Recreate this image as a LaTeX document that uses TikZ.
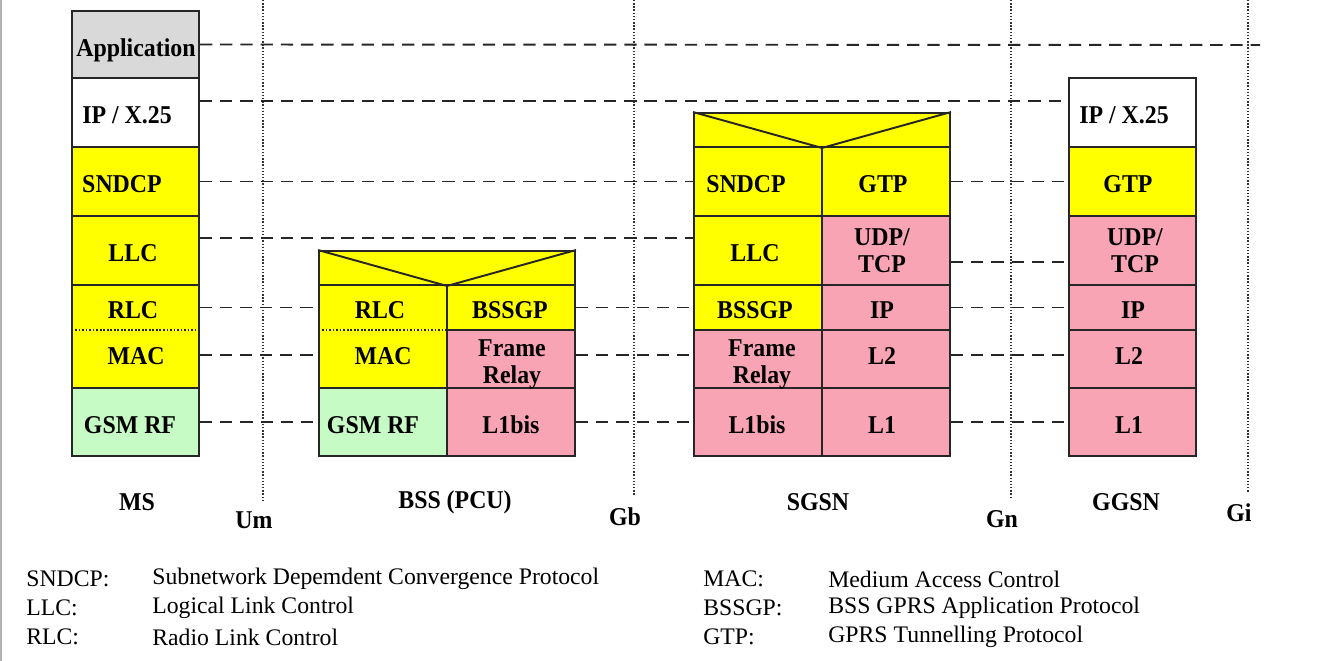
\documentclass[tikz,border=0pt]{standalone}
\usepackage{fontspec}
\setmainfont{Liberation Serif}
\newfontfamily\layerfont[FakeStretch=0.93]{Liberation Serif}
\usetikzlibrary{fit,calc}
\tikzset{
  layer/.style={draw=black!85, line width=1.1pt, inner sep=0pt},
  plane/.style={inner sep=0pt, draw=none},
  lbl/.style={font=\layerfont\fontsize{14.6}{15.5}\selectfont\bfseries, inner sep=0pt, align=center},
  peer/.style={line width=1.1pt, black!85, dash pattern=on 7pt off 4.5pt},
  iface/.style={line width=0.8pt, black!80, densely dotted},
  legend/.style={font=\fontsize{13.5}{15}\selectfont, anchor=west, inner sep=0pt}
}
\definecolor{layeryellow}{HTML}{FFFF00}
\definecolor{layerpink}{HTML}{F9A4B4}
\definecolor{rfgreen}{HTML}{C6FBC6}
\definecolor{appgrey}{HTML}{D9D9D9}

\begin{document}
\begin{tikzpicture}[x=0.02cm, y=-0.02cm]

  \useasboundingbox (0,0) rectangle (1324,661);
  \draw[black!30, line width=1pt] (1,0) -- (1,661);

  % interfaces
  \foreach \n/\x/\yb/\ty/\t in {
    um/263/500/520/Um,
    gb/634/495/517/Gb,
    gn/1011/497/519/Gn,
    gi/1248/492/513/Gi}{
    \draw[iface] (\x,0) -- (\x,\yb);
    \node[lbl] (\n) at (\x-9,\ty) {\t};
  }

  % protocol layers
  \foreach \n/\xa/\ya/\xb/\yb/\c in {
    msapp/72/11/199/78/appgrey,
    msip/72/78/199/147/white,
    mssnd/72/147/199/216/layeryellow,
    msllc/72/216/199/285/layeryellow,
    msrf/72/388/199/456/rfgreen,
    bsstop/319/251/575/285/layeryellow,
    bssgp/447/285/575/330/layeryellow,
    bssfr/447/330/575/388/layerpink,
    bssrf/319/388/447/456/rfgreen,
    bssl1/447/388/575/456/layerpink,
    sgtop/694/113/950/147/layeryellow,
    sgsnd/694/147/822/216/layeryellow,
    sggtp/822/147/950/216/layeryellow,
    sgllc/694/216/822/285/layeryellow,
    sgudp/822/216/950/285/layerpink,
    sgbssgp/694/285/822/330/layeryellow,
    sgip/822/285/950/330/layerpink,
    sgfr/694/330/822/388/layerpink,
    sgl2/822/330/950/388/layerpink,
    sgl1bis/694/388/822/456/layerpink,
    sgl1/822/388/950/456/layerpink,
    ggip/1069/78/1196/147/white,
    gggtp/1069/147/1196/216/layeryellow,
    ggudp/1069/216/1196/285/layerpink,
    ggipl/1069/285/1196/330/layerpink,
    ggl2/1069/330/1196/388/layerpink,
    ggl1/1069/388/1196/456/layerpink}{
    \node[layer, fill=\c, fit={(\xa,\ya) (\xb,\yb)}] (\n) {};
  }

  % RLC/MAC share one frame
  \foreach \n/\xa/\ya/\xb/\yb in {
    msrlc/72/285/199/330,
    msmac/72/330/199/388,
    bssrlc/319/285/447/330,
    bssmac/319/330/447/388}{
    \node[plane, fill=layeryellow, fit={(\xa,\ya) (\xb,\yb)}] (\n) {};
  }
  \draw[layer] (msrlc.north west) rectangle (msmac.south east);
  \draw[layer] (bssrlc.north west) rectangle (bssmac.south east);
  \draw[black!85, line width=1pt, densely dotted] (msrlc.south west) -- (msrlc.south east);
  \draw[black!85, line width=1pt, densely dotted] (bssrlc.south west) -- (bssrlc.south east);

  % relay tops
  \draw[line width=1.1pt, black!85] (bsstop.north west) -- (bsstop.south) -- (bsstop.north east);
  \draw[line width=1.1pt, black!85] (sgtop.north west) -- (sgtop.south) -- (sgtop.north east);

  % peer connections
  \coordinate (append) at (1260,45);
  \draw[peer] (msapp.east) -- (append);
  \draw[peer] ([yshift=0.23cm]msip.east) -- ([yshift=0.23cm]ggip.west);
  \draw[peer] (mssnd.east) -- (sgsnd.west);
  \draw[peer] (sggtp.east) -- (gggtp.west);
  \draw[peer] ([yshift=0.25cm]msllc.east) -- ([yshift=0.25cm]sgllc.west);
  \draw[peer] ([yshift=-0.23cm]sgudp.east) -- ([yshift=-0.23cm]ggudp.west);
  \draw[peer] (msrlc.east) -- (bssrlc.west);
  \draw[peer] (bssgp.east) -- (sgbssgp.west);
  \draw[peer] (sgip.east) -- (ggipl.west);
  \draw[peer] ([yshift=0.08cm]msmac.east) -- ([yshift=0.08cm]bssmac.west);
  \draw[peer] ([yshift=0.08cm]bssfr.east) -- ([yshift=0.08cm]sgfr.west);
  \draw[peer] ([yshift=0.08cm]sgl2.east) -- ([yshift=0.08cm]ggl2.west);
  \draw[peer] (msrf.east) -- (bssrf.west);
  \draw[peer] (bssl1.east) -- (sgl1bis.west);
  \draw[peer] (sgl1.east) -- (ggl1.west);

  % layer names
  \foreach \n/\x/\y/\t in {
    tmsapp/136/50/Application,
    tmsip/127/115/{IP / X.25},
    tmssnd/122/184/SNDCP,
    tmsllc/133/253/LLC,
    tmsrlc/133/310/RLC,
    tmsmac/136/356/MAC,
    tmsrf/130/425/GSM RF,
    tbssrlc/380/310/RLC,
    tbssmac/383/356/MAC,
    tbssrf/373/425/GSM RF,
    tbssgp/510/310/BSSGP,
    tbssfr/512/364/{Frame\\Relay},
    tbssl1/511/425/L1bis,
    tsgsnd/746/184/SNDCP,
    tsggtp/883/184/GTP,
    tsgllc/755/253/LLC,
    tsgudp/882/251/{UDP/\\TCP},
    tsgbssgp/755/310/BSSGP,
    tsgip/882/310/IP,
    tsgfr/762/364/{Frame\\Relay},
    tsgl2/882/356/L2,
    tsgl1bis/757/425/L1bis,
    tsgl1/882/425/L1,
    tggip/1124/115/{IP / X.25},
    tgggtp/1128/184/GTP,
    tggudp/1135/251/{UDP/\\TCP},
    tggipl/1133/310/IP,
    tggl2/1129/356/L2,
    tggl1/1129/425/L1}{
    \node[lbl] (\n) at (\x,\y) {\t};
  }

  % network elements
  \node[lbl] (ms) at (137,502) {MS};
  \node[lbl] (bss) at (455,502) {BSS (PCU)};
  \node[lbl] (sgsn) at (818,502) {SGSN};
  \node[lbl] (ggsn) at (1126,502) {GGSN};

  % abbreviations
  \foreach \n/\xa/\xb/\y/\a/\d in {
    lsnd/26/152/579/SNDCP:/Subnetwork Depemdent Convergence Protocol,
    lllc/26/152/608/LLC:/Logical Link Control,
    lrlc/26/152/637/RLC:/Radio Link Control,
    lmac/703/828/579/MAC:/Medium Access Control,
    lbssgp/703/828/608/BSSGP:/BSS GPRS Application Protocol,
    lgtp/703/828/637/GTP:/GPRS Tunnelling Protocol}{
    \node[legend] (\n) at (\xa,\y) {\a};
    \node[legend] (\n d) at (\xb,\y) {\d};
  }

\end{tikzpicture}
\end{document}
